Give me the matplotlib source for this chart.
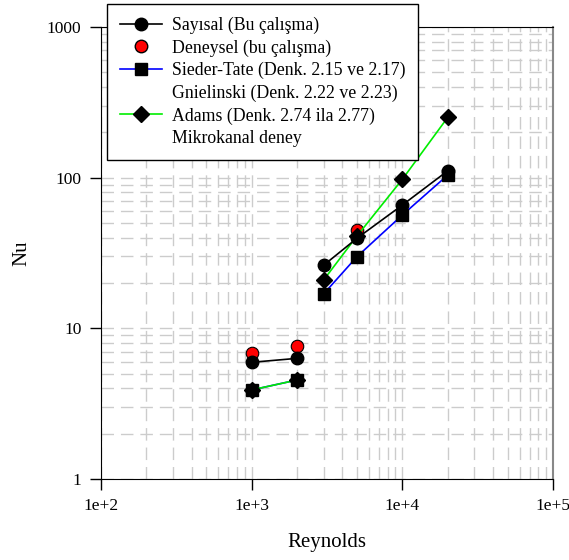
import matplotlib.pyplot as plt
import numpy as np
from matplotlib.lines import Line2D
from matplotlib.ticker import FixedLocator, FixedFormatter, LogLocator, NullFormatter

plt.rcParams['font.family'] = ['Liberation Serif', 'DejaVu Serif']

# Data (laminar and turbulent ranges plotted as separate segments)
re_lam = [1000, 2000]
re_turb = [3000, 5000, 10000, 20000]
re_exp = [1000, 2000, 5000]

sayisal_lam = [5.95, 6.32]
sayisal_turb = [26.2, 39.6, 65.8, 111]
deneysel = [6.89, 7.67, 44.9]
sieder_lam = [3.90, 4.54]
sieder_turb = [16.9, 29.9, 56.5, 104]
adams_lam = [3.90, 4.54]
adams_turb = [20.9, 41.0, 97.5, 251]

labels = ['Sayısal (Bu çalışma)', 'Deneysel (bu çalışma)',
          'Sieder-Tate (Denk. 2.15 ve 2.17)', 'Gnielinski (Denk. 2.22 ve 2.23)',
          'Adams (Denk. 2.74 ila 2.77)', 'Mikrokanal deney']

fig = plt.figure(figsize=(5.69, 5.6), dpi=100)
ax = fig.add_axes([101 / 569, 1 - 479 / 560, 452 / 569, 452 / 560])

ms = 9
ax.plot(re_exp, deneysel, 'o', color='red', mec='black', mew=0.8, ms=ms, zorder=3)
for xs, ys in [(re_lam, sieder_lam), (re_turb, sieder_turb)]:
    ax.plot(xs, ys, '-', color='blue', lw=1.2, marker='s', mfc='black', mec='black', ms=ms, zorder=4)
for xs, ys in [(re_lam, adams_lam), (re_turb, adams_turb)]:
    ax.plot(xs, ys, '-', color='#00ee00', lw=1.2, marker='D', mfc='black', mec='black', ms=ms * 0.85, zorder=5)
for xs, ys in [(re_lam, sayisal_lam), (re_turb, sayisal_turb)]:
    ax.plot(xs, ys, '-', color='black', lw=1.2, marker='o', mfc='black', mec='black', ms=ms, zorder=6)

ax.set_xscale('log')
ax.set_yscale('log')
ax.set_xlim(100, 1e5)
ax.set_ylim(1, 1000)

ax.xaxis.set_major_locator(FixedLocator([1e2, 1e3, 1e4, 1e5]))
ax.xaxis.set_major_formatter(FixedFormatter(['1e+2', '1e+3', '1e+4', '1e+5']))
ax.yaxis.set_major_locator(FixedLocator([1, 10, 100, 1000]))
ax.yaxis.set_major_formatter(FixedFormatter(['1', '10', '100', '1000']))
for axis in (ax.xaxis, ax.yaxis):
    axis.set_minor_locator(LogLocator(base=10, subs=np.arange(2, 10)))
    axis.set_minor_formatter(NullFormatter())
ax.tick_params(which='major', direction='out', length=8, width=1, labelsize=12.5, pad=6)
ax.tick_params(which='minor', length=0)

ax.grid(which='both', color='#cccccc', linestyle=(0, (9, 5)), lw=1)
ax.set_axisbelow(True)

ax.spines['right'].set_color('#888888')
ax.spines['right'].set_linewidth(1.5)

ax.set_xlabel('Reynolds', fontsize=15, va='center')
ax.set_ylabel('Nu', fontsize=15, va='center')
ax.xaxis.set_label_coords(0.5, (479 - 543) / 452)
ax.yaxis.set_label_coords((22 - 101) / 452, 0.5)

handles = [
    Line2D([], [], color='black', marker='o', ms=ms, lw=1.2),
    Line2D([], [], color='none', marker='o', mfc='red', mec='black', ms=ms),
    Line2D([], [], color='blue', marker='s', mfc='black', mec='black', ms=ms, lw=1.2),
    Line2D([], [], color='none'),
    Line2D([], [], color='#00ee00', marker='D', mfc='black', mec='black', ms=ms * 0.85, lw=1.2),
    Line2D([], [], color='none'),
]
leg = fig.legend(handles, labels, loc='upper left', bbox_to_anchor=(107 / 569, 1 - 4 / 560),
                 fontsize=12.8, frameon=True, fancybox=False, edgecolor='black',
                 framealpha=1, handlelength=2.36, borderpad=0.72, labelspacing=0.3,
                 handletextpad=0.56, borderaxespad=0)
leg.get_frame().set_linewidth(1)
leg.set_zorder(10)

plt.savefig('out.png', dpi=100)
